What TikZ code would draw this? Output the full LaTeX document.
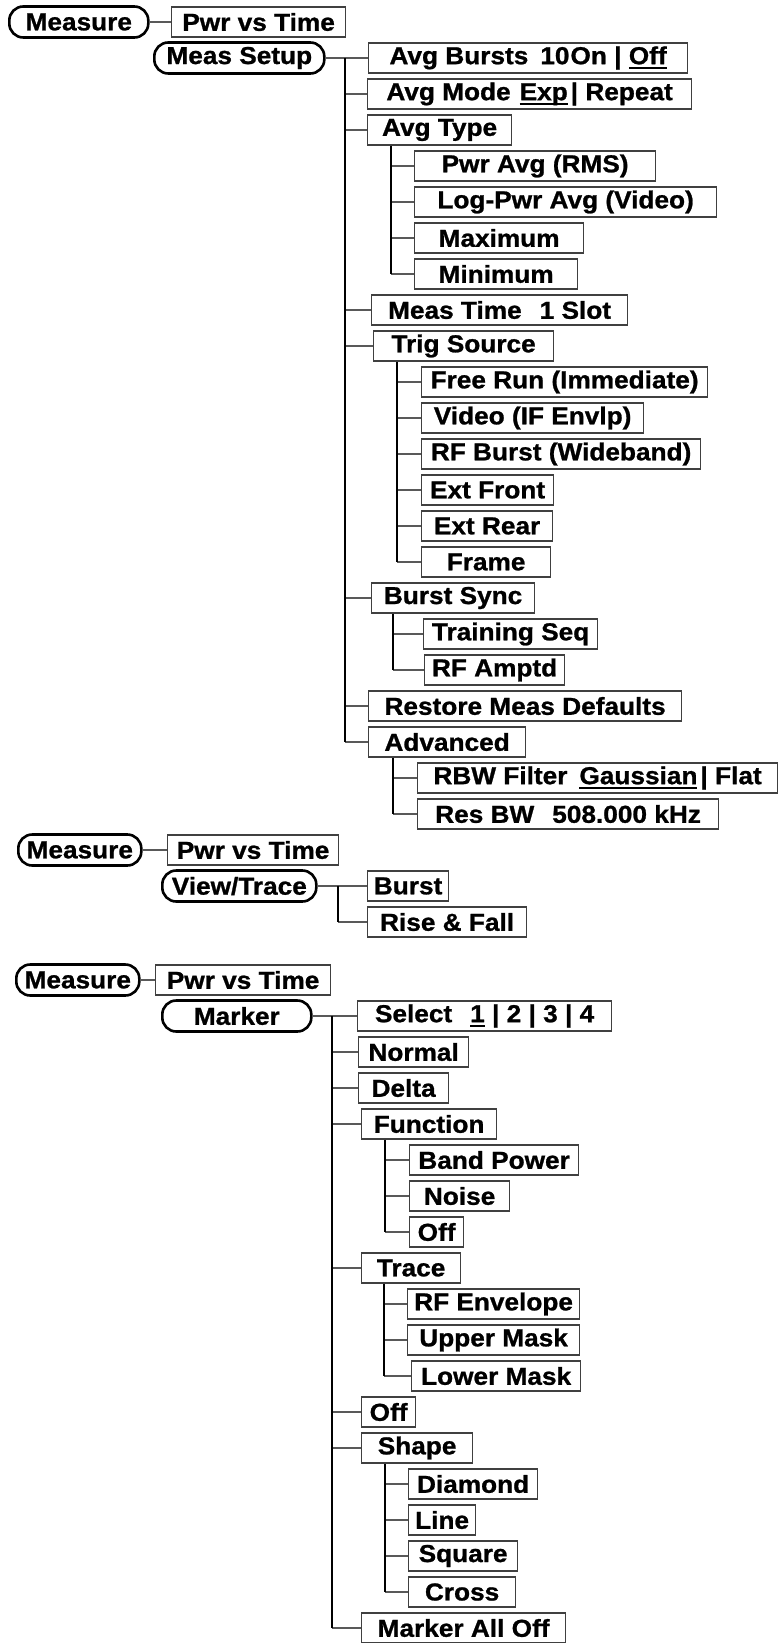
\documentclass[tikz,border=0pt]{standalone}
\usepackage{fontspec}
\setmainfont{Liberation Sans}[FakeStretch=1.07, BoldFeatures={FakeBold=1}]
\usetikzlibrary{positioning}
\newcommand{\optsel}[1]{\setbox0\hbox{#1}\rlap{\vrule height -2.6pt depth 4.4pt width \wd0}\box0\relax}

\begin{document}
\begin{tikzpicture}[x=1pt, y=-1pt, every node/.style={font=\fontsize{24.5}{28}\selectfont\bfseries, inner sep=0pt}, box/.style={draw=black!75, line width=1.2pt, anchor=west, minimum height=30pt, align=center}, key/.style={draw, line width=2.6pt, rounded corners=14pt, anchor=west, minimum height=31pt}, branch/.style={draw=black!65, line width=1.2pt}, trunk/.style={line width=2pt}]
\useasboundingbox (0,0) rectangle (779,1643);

% Meas Setup menu
\node[key, minimum width=139pt] (measA) at (8,22) {Measure};
\node[box, minimum width=174pt] (pwrA) at (171,22) {Pwr vs Time};
\node[key, minimum width=170pt] (setup) at (153,58) {Meas Setup};
\node[box, minimum width=319pt] (bursts) at (368,58) {Avg Bursts\hspace{12pt}10\kern1pt On | \optsel{Off}};
\node[box, minimum width=324pt] (avgmode) at (367,94) {Avg Mode\hspace{9pt}\optsel{Exp}\kern3pt| Repeat};
\node[box, minimum width=144pt] (avgtype) at (367,130) {Avg Type};
\node[box, minimum width=241pt] (rms) at (414,166) {Pwr Avg (RMS)};
\node[box, minimum width=302pt] (logpwr) at (414,202) {Log-Pwr Avg (Video)};
\node[box, minimum width=169pt] (maximum) at (414,238) {Maximum};
\node[box, minimum width=163pt] (minimum) at (414,274) {Minimum};
\node[box, minimum width=256pt] (meastime) at (371,310) {Meas Time\hspace{18pt}1 Slot};
\node[box, minimum width=180pt] (trigsrc) at (373,346) {Trig Source};
\node[box, minimum width=286pt] (freerun) at (421,382) {Free Run (Immediate)};
\node[box, minimum width=222pt] (video) at (421,418) {Video (IF Envlp)};
\node[box, minimum width=279pt] (rfburst) at (421,454) {RF Burst (Wideband)};
\node[box, minimum width=132pt] (extfront) at (421,490) {Ext Front};
\node[box, minimum width=131pt] (extrear) at (421,526) {Ext Rear};
\node[box, minimum width=129pt] (frame) at (421,562) {Frame};
\node[box, minimum width=163pt] (burstsync) at (371,598) {Burst Sync};
\node[box, minimum width=174pt] (trainseq) at (423,634) {Training Seq};
\node[box, minimum width=140pt] (rfamptd) at (424,670) {RF Amptd};
\node[box, minimum width=313pt] (restore) at (368,706) {Restore Meas Defaults};
\node[box, minimum width=157pt] (advanced) at (368,742) {Advanced};
\node[box, minimum width=360pt] (rbw) at (417,778) {RBW Filter\hspace{12pt}\optsel{Gaussian}\kern3pt| Flat};
\node[box, minimum width=301pt] (resbw) at (417,814) {Res BW\hspace{18pt}508.000 kHz};
\coordinate (t1) at (345,0);
\coordinate (t2) at (391,0);
\coordinate (t3) at (397,0);
\coordinate (t4) at (393,0);
\coordinate (t5) at (393,0);
\draw[branch] (measA) -- (pwrA);
\draw[branch] (setup) -- (bursts);
\draw[branch] (t1 |- avgmode.west) -- (avgmode.west) (t1 |- avgtype.west) -- (avgtype.west) (t1 |- meastime.west) -- (meastime.west) (t1 |- trigsrc.west) -- (trigsrc.west) (t1 |- burstsync.west) -- (burstsync.west) (t1 |- restore.west) -- (restore.west) (t1 |- advanced.west) -- (advanced.west);
\draw[branch] (t2 |- rms.west) -- (rms.west) (t2 |- logpwr.west) -- (logpwr.west) (t2 |- maximum.west) -- (maximum.west) (t2 |- minimum.west) -- (minimum.west);
\draw[branch] (t3 |- freerun.west) -- (freerun.west) (t3 |- video.west) -- (video.west) (t3 |- rfburst.west) -- (rfburst.west) (t3 |- extfront.west) -- (extfront.west) (t3 |- extrear.west) -- (extrear.west) (t3 |- frame.west) -- (frame.west);
\draw[branch] (t4 |- trainseq.west) -- (trainseq.west) (t4 |- rfamptd.west) -- (rfamptd.west);
\draw[branch] (t5 |- rbw.west) -- (rbw.west) (t5 |- resbw.west) -- (resbw.west);
\draw[trunk] (t1 |- bursts.west) -- (t1 |- advanced.west);
\draw[trunk] (t2 |- avgtype.south) -- (t2 |- minimum.west);
\draw[trunk] (t3 |- trigsrc.south) -- (t3 |- frame.west);
\draw[trunk] (t4 |- burstsync.south) -- (t4 |- rfamptd.west);
\draw[trunk] (t5 |- advanced.south) -- (t5 |- resbw.west);

% View/Trace menu
\node[key, minimum width=123pt] (measB) at (17,850) {Measure};
\node[box, minimum width=171pt] (pwrB) at (167,850) {Pwr vs Time};
\node[key, minimum width=154pt] (viewtrace) at (161,886) {View/Trace};
\node[box, minimum width=81pt] (burst) at (367,886) {Burst};
\node[box, minimum width=159pt] (risefall) at (367,922) {Rise \& Fall};
\coordinate (t6) at (338,0);
\draw[branch] (measB) -- (pwrB);
\draw[branch] (viewtrace) -- (burst);
\draw[branch] (t6 |- risefall.west) -- (risefall.west);
\draw[trunk] (t6 |- burst.west) -- (t6 |- risefall.west);

% Marker menu
\node[key, minimum width=123pt] (measC) at (15,980) {Measure};
\node[box, minimum width=175pt] (pwrC) at (155,980) {Pwr vs Time};
\node[key, minimum width=149pt] (marker) at (161,1016) {Marker};
\node[box, minimum width=254pt] (select) at (357,1016) {Select\hspace{18pt}\optsel{1} | 2 | 3 | 4};
\node[box, minimum width=110pt] (normal) at (358,1052) {Normal};
\node[box, minimum width=90pt] (delta) at (358,1088) {Delta};
\node[box, minimum width=135pt] (function) at (361,1124) {Function};
\node[box, minimum width=169pt] (bandpower) at (409,1160) {Band Power};
\node[box, minimum width=100pt] (noise) at (409,1196) {Noise};
\node[box, minimum width=54pt] (offA) at (409,1232) {Off};
\node[box, minimum width=99pt] (trace) at (361,1268) {Trace};
\node[box, minimum width=172pt] (rfenv) at (407,1304) {RF Envelope};
\node[box, minimum width=172pt] (uppermask) at (407,1340) {Upper Mask};
\node[box, minimum width=169pt] (lowermask) at (411,1376) {Lower Mask};
\node[box, minimum width=54pt] (offB) at (361,1412) {Off};
\node[box, minimum width=111pt] (shape) at (361,1448) {Shape};
\node[box, minimum width=129pt] (diamond) at (408,1484) {Diamond};
\node[box, minimum width=67pt] (line) at (408,1520) {Line};
\node[box, minimum width=109pt] (square) at (408,1556) {Square};
\node[box, minimum width=107pt] (cross) at (408,1592) {Cross};
\node[box, minimum width=204pt] (markeroff) at (361,1628) {Marker All Off};
\coordinate (t7) at (332,0);
\coordinate (t8) at (385,0);
\coordinate (t9) at (384,0);
\coordinate (t10) at (385,0);
\draw[branch] (measC) -- (pwrC);
\draw[branch] (marker) -- (select);
\draw[branch] (t7 |- normal.west) -- (normal.west) (t7 |- delta.west) -- (delta.west) (t7 |- function.west) -- (function.west) (t7 |- trace.west) -- (trace.west) (t7 |- offB.west) -- (offB.west) (t7 |- shape.west) -- (shape.west) (t7 |- markeroff.west) -- (markeroff.west);
\draw[branch] (t8 |- bandpower.west) -- (bandpower.west) (t8 |- noise.west) -- (noise.west) (t8 |- offA.west) -- (offA.west);
\draw[branch] (t9 |- rfenv.west) -- (rfenv.west) (t9 |- uppermask.west) -- (uppermask.west) (t9 |- lowermask.west) -- (lowermask.west);
\draw[branch] (t10 |- diamond.west) -- (diamond.west) (t10 |- line.west) -- (line.west) (t10 |- square.west) -- (square.west) (t10 |- cross.west) -- (cross.west);
\draw[trunk] (t7 |- select.west) -- (t7 |- markeroff.west);
\draw[trunk] (t8 |- function.south) -- (t8 |- offA.west);
\draw[trunk] (t9 |- trace.south) -- (t9 |- lowermask.west);
\draw[trunk] (t10 |- shape.south) -- (t10 |- cross.west);
\end{tikzpicture}
\end{document}
